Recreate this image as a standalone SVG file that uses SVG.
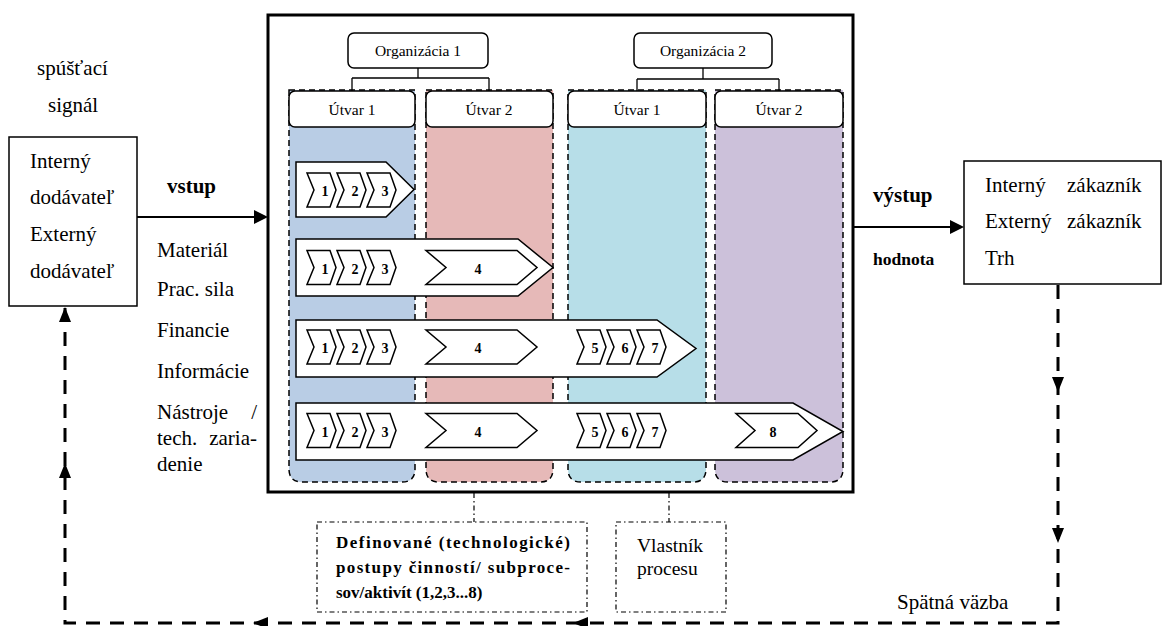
<svg xmlns="http://www.w3.org/2000/svg" xmlns:xlink="http://www.w3.org/1999/xlink" width="1163" height="626" viewBox="0 0 1163 626" font-family="'Liberation Serif', Tinos, 'Times New Roman', 'DejaVu Serif', serif">
<style>
text{font-family:'Liberation Serif', Tinos, 'Times New Roman', 'DejaVu Serif', serif;fill:#000}
.t21{font-size:21px}
.b21{font-size:21px;font-weight:bold}
.org{font-size:15.5px}
.num{font-size:14px;font-weight:bold;text-anchor:middle}
.box{fill:#fff;stroke:#000;stroke-width:1.5}
.lane{stroke:#000;stroke-width:1.5;stroke-dasharray:6 4}
.row{fill:#fff;stroke:#000;stroke-width:1.5}
.ch{fill:#fff;stroke:#000;stroke-width:1.5;stroke-linejoin:miter}
.thin{fill:none;stroke:#000;stroke-width:1.3}
.dd{fill:none;stroke:#000;stroke-width:1.2;stroke-dasharray:5 3 1.5 3}
.fb{fill:none;stroke:#000;stroke-width:3;stroke-dasharray:14 10}
.head{fill:#000}
</style>
<defs>
<path id="ch" class="ch" d="M0,-17 H23 L29,0 L23,17 H0 L7,0 Z"/>
<path id="ch4" class="ch" d="M0,-17 H91 L111,0 L91,17 H0 L20,0 Z"/>
<path id="ch8" class="ch" d="M0,-17 H62 L81,0 L62,17 H0 L19,0 Z"/>
</defs>

<g id="trigger">
<text class="t21" x="37" y="75">spúšťací</text>
<text class="t21" x="48" y="112">signál</text>
</g>

<g id="supplier">
<rect class="box" x="9" y="137" width="128" height="169"/>
<text class="t21" x="30" y="168">Interný</text>
<text class="t21" x="30" y="204">dodávateľ</text>
<text class="t21" x="30" y="241">Externý</text>
<text class="t21" x="30" y="278">dodávateľ</text>
</g>

<g id="inputs">
<text class="b21" x="167" y="193">vstup</text>
<text class="t21" x="157" y="257">Materiál</text>
<text class="t21" x="157" y="296">Prac. sila</text>
<text class="t21" x="157" y="337">Financie</text>
<text class="t21" x="157" y="378">Informácie</text>
<text class="t21" x="157" y="419">Nástroje</text>
<text class="t21" x="257" y="419" text-anchor="end">/</text>
<text class="t21" x="157" y="445">tech.</text>
<text class="t21" x="257" y="445" text-anchor="end">zaria-</text>
<text class="t21" x="157" y="471">denie</text>
</g>

<g id="process">
<rect x="268" y="15" width="585" height="477" fill="#fff" stroke="#000" stroke-width="3"/>

<g id="lanes">
<path class="lane" fill="#B9CDE5" d="M289,90 H415 V469 Q415,482 402,482 H302 Q289,482 289,469 Z"/>
<path class="lane" fill="#E6B9B8" d="M426,90 H553 V469 Q553,482 540,482 H439 Q426,482 426,469 Z"/>
<path class="lane" fill="#B7DEE8" d="M568,90 H706 V469 Q706,482 693,482 H581 Q568,482 568,469 Z"/>
<path class="lane" fill="#CCC1DA" d="M715,90 H843 V469 Q843,482 830,482 H728 Q715,482 715,469 Z"/>
</g>

<g id="org-lines">
<path class="thin" d="M418,68 V78 M352,78 H489 M352,78 V91 M489,78 V91"/>
<path class="thin" d="M703,68 V79 M637,79 H779 M637,79 V91 M779,79 V91"/>
</g>

<g id="org1">
<rect class="box" x="348" y="33" width="140" height="35" rx="6"/>
<text class="org" x="418" y="56" text-anchor="middle">Organizácia 1</text>
</g>
<g id="org2">
<rect class="box" x="634" y="33" width="138" height="35" rx="6"/>
<text class="org" x="703" y="56" text-anchor="middle">Organizácia 2</text>
</g>
<g id="o1u1">
<rect class="box" x="289" y="91" width="126" height="36" rx="6"/>
<text class="org" x="352" y="115" text-anchor="middle">Útvar 1</text>
</g>
<g id="o1u2">
<rect class="box" x="426" y="91" width="127" height="36" rx="6"/>
<text class="org" x="489" y="115" text-anchor="middle">Útvar 2</text>
</g>
<g id="o2u1">
<rect class="box" x="568" y="91" width="138" height="36" rx="6"/>
<text class="org" x="637" y="115" text-anchor="middle">Útvar 1</text>
</g>
<g id="o2u2">
<rect class="box" x="715" y="91" width="128" height="36" rx="6"/>
<text class="org" x="779" y="115" text-anchor="middle">Útvar 2</text>
</g>

<g id="row1">
<polygon class="row" points="296,162 386,162 414,189.5 386,217 296,217"/>
<use xlink:href="#ch" x="307" y="190"/><use xlink:href="#ch" x="337" y="190"/><use xlink:href="#ch" x="367" y="190"/>
<text class="num" x="325" y="196">1</text><text class="num" x="355" y="196">2</text><text class="num" x="385" y="196">3</text>
</g>
<g id="row2">
<polygon class="row" points="296,239 518,239 553,267.5 518,296 296,296"/>
<use xlink:href="#ch" x="307" y="267.5"/><use xlink:href="#ch" x="337" y="267.5"/><use xlink:href="#ch" x="367" y="267.5"/>
<use xlink:href="#ch4" x="426" y="267.5"/>
<text class="num" x="325" y="274">1</text><text class="num" x="355" y="274">2</text><text class="num" x="385" y="274">3</text>
<text class="num" x="478" y="274">4</text>
</g>
<g id="row3">
<polygon class="row" points="296,320 657,320 696,348.5 657,377 296,377"/>
<use xlink:href="#ch" x="307" y="347"/><use xlink:href="#ch" x="337" y="347"/><use xlink:href="#ch" x="367" y="347"/>
<use xlink:href="#ch4" x="426" y="347"/>
<use xlink:href="#ch" x="577" y="347"/><use xlink:href="#ch" x="607" y="347"/><use xlink:href="#ch" x="637" y="347"/>
<text class="num" x="325" y="353">1</text><text class="num" x="355" y="353">2</text><text class="num" x="385" y="353">3</text>
<text class="num" x="478" y="353">4</text>
<text class="num" x="595" y="353">5</text><text class="num" x="625" y="353">6</text><text class="num" x="655" y="353">7</text>
</g>
<g id="row4">
<polygon class="row" points="296,403 793,403 843,431.5 793,460 296,460"/>
<use xlink:href="#ch" x="307" y="430.5"/><use xlink:href="#ch" x="337" y="430.5"/><use xlink:href="#ch" x="367" y="430.5"/>
<use xlink:href="#ch4" x="426" y="430.5"/>
<use xlink:href="#ch" x="577" y="430.5"/><use xlink:href="#ch" x="607" y="430.5"/><use xlink:href="#ch" x="637" y="430.5"/>
<use xlink:href="#ch8" x="736" y="430.5"/>
<text class="num" x="325" y="437">1</text><text class="num" x="355" y="437">2</text><text class="num" x="385" y="437">3</text>
<text class="num" x="478" y="437">4</text>
<text class="num" x="595" y="437">5</text><text class="num" x="625" y="437">6</text><text class="num" x="655" y="437">7</text>
<text class="num" x="773" y="437">8</text>
</g>
</g>

<g id="outputs">
<text class="b21" x="873" y="202">výstup</text>
<text x="873" y="265" style="font-size:17.5px;font-weight:bold">hodnota</text>
</g>

<g id="customer">
<rect class="box" x="964" y="161" width="197" height="123"/>
<text class="t21" x="985" y="192">Interný</text>
<text class="t21" x="1067" y="192">zákazník</text>
<text class="t21" x="985" y="228">Externý</text>
<text class="t21" x="1067" y="228">zákazník</text>
<text class="t21" x="985" y="265">Trh</text>
</g>

<g id="activities">
<rect class="dd" x="317" y="522" width="270" height="90"/>
<text x="336" y="548" textLength="234" lengthAdjust="spacing" style="font-size:17px;font-weight:bold">Definované (technologické)</text>
<text x="336" y="573" textLength="234" lengthAdjust="spacing" style="font-size:17px;font-weight:bold">postupy činností/ subproce-</text>
<text x="336" y="598" style="font-size:17px;font-weight:bold">sov/aktivít (1,2,3...8)</text>
</g>

<g id="owner">
<rect class="dd" x="616" y="522" width="110" height="90"/>
<text x="637" y="552" style="font-size:19.5px">Vlastník</text>
<text x="637" y="575" style="font-size:19.5px">procesu</text>
</g>

<g id="feedback-label">
<text class="t21" x="897" y="609">Spätná väzba</text>
</g>

<g id="connectors">
<line x1="137" y1="217" x2="256" y2="217" stroke="#000" stroke-width="2"/>
<polygon class="head" points="254,210 268,217 254,224"/>
<line x1="853" y1="227" x2="952" y2="227" stroke="#000" stroke-width="2"/>
<polygon class="head" points="950,220 964,227 950,234"/>
<path class="dd" d="M474,493 V522 M669,493 V522"/>
<path class="fb" d="M1058,285 V623 H65 V308"/>
<polygon class="head" points="1052,377 1064,377 1058,392"/>
<polygon class="head" points="1052,528 1064,528 1058,543"/>
<polygon class="head" points="573,623 588,617 588,629"/>
<polygon class="head" points="253,623 268,617 268,629"/>
<polygon class="head" points="65,307 59,322 71,322"/>
<polygon class="head" points="65,463 59,478 71,478"/>
</g>
</svg>
